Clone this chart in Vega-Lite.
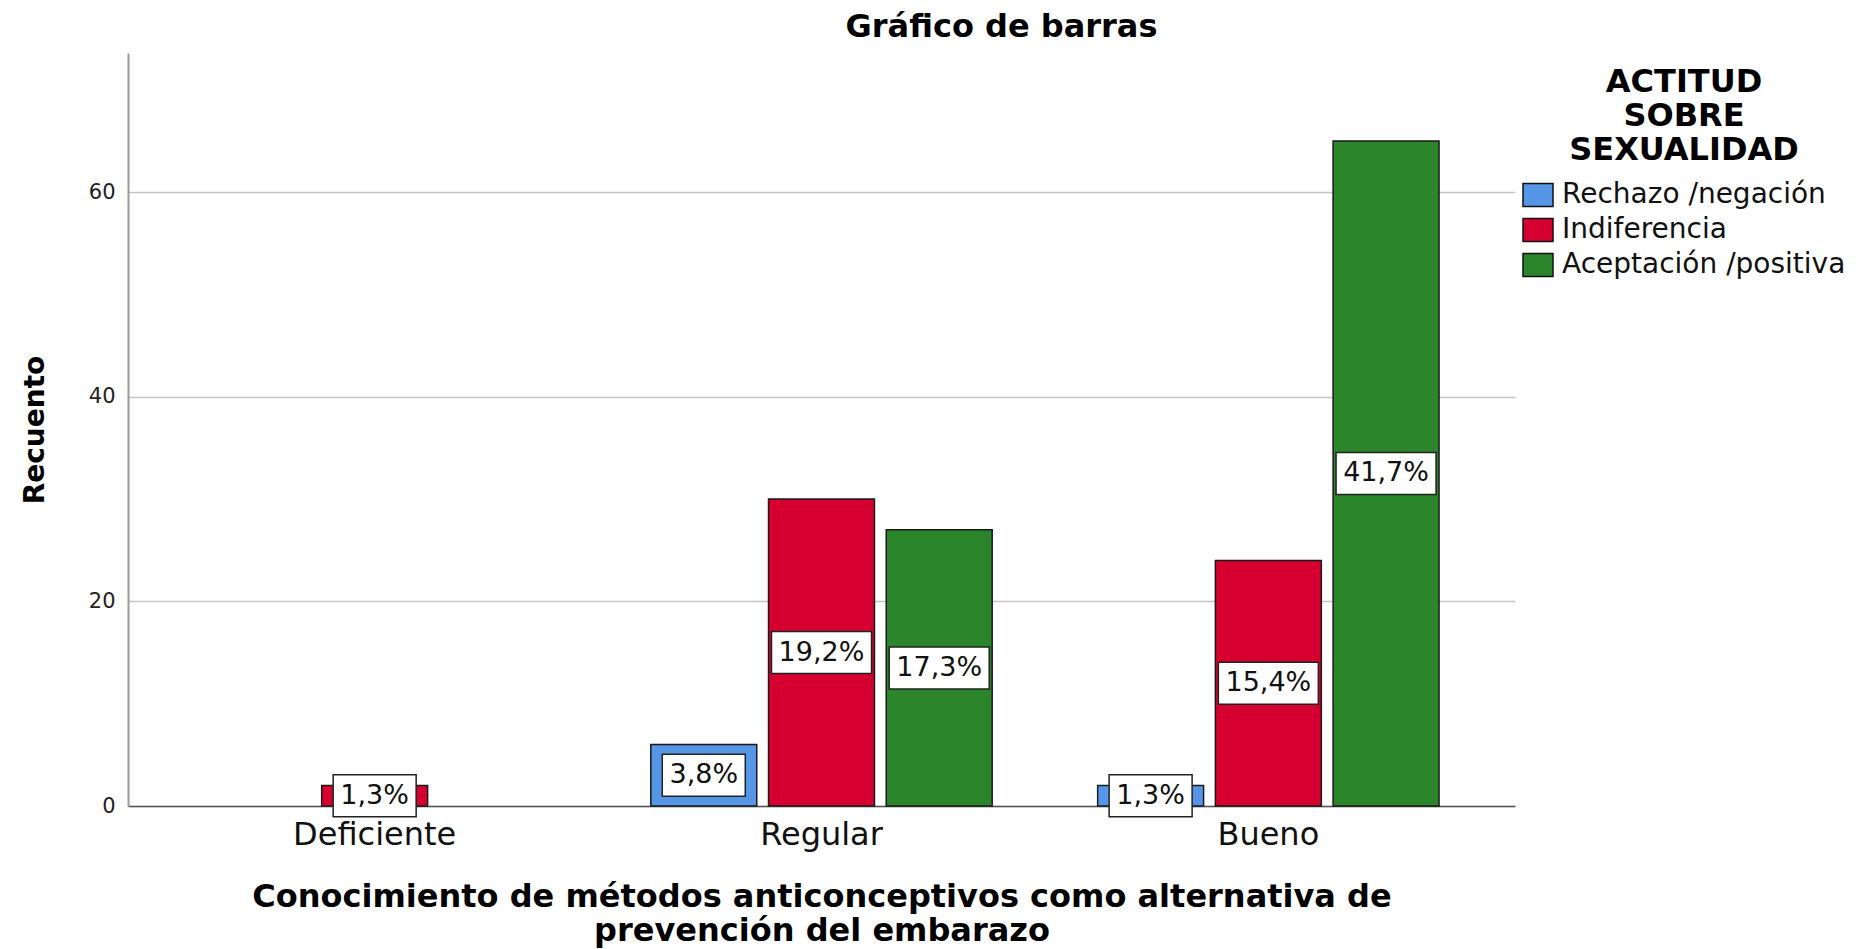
{
  "$schema": "https://vega.github.io/schema/vega-lite/v6.json",
  "width": 1387,
  "height": 753,
  "autosize": {"type": "none"},
  "padding": {"left": 128, "top": 53, "right": 344, "bottom": 143},
  "background": "white",
  "title": {"text": "Gráfico de barras", "font": "DejaVu Sans", "fontSize": 32, "fontWeight": "bold", "color": "#000", "anchor": "middle", "dx": 180, "offset": 9},
  "data": {
    "values": [
      {"conocimiento": "Deficiente", "actitud": "Indiferencia", "recuento": 2, "pct": "1,3%"},
      {"conocimiento": "Regular", "actitud": "Rechazo /negación", "recuento": 6, "pct": "3,8%"},
      {"conocimiento": "Regular", "actitud": "Indiferencia", "recuento": 30, "pct": "19,2%"},
      {"conocimiento": "Regular", "actitud": "Aceptación /positiva", "recuento": 27, "pct": "17,3%"},
      {"conocimiento": "Bueno", "actitud": "Rechazo /negación", "recuento": 2, "pct": "1,3%"},
      {"conocimiento": "Bueno", "actitud": "Indiferencia", "recuento": 24, "pct": "15,4%"},
      {"conocimiento": "Bueno", "actitud": "Aceptación /positiva", "recuento": 65, "pct": "41,7%"}
    ]
  },
  "layer": [
    {
      "mark": {"type": "bar", "stroke": "#1a1a1a", "strokeWidth": 1.5},
      "encoding": {
        "x": {"field": "conocimiento", "type": "nominal", "sort": ["Deficiente", "Regular", "Bueno"], "scale": {"paddingInner": 0.236, "paddingOuter": 0.17}, "title": ["Conocimiento de métodos anticonceptivos como alternativa de", "prevención del embarazo"]},
        "xOffset": {"field": "actitud", "type": "nominal", "sort": ["Rechazo /negación", "Indiferencia", "Aceptación /positiva"], "scale": {"domain": ["Rechazo /negación", "Indiferencia", "Aceptación /positiva"], "paddingInner": 0.1}},
        "y": {"field": "recuento", "type": "quantitative", "scale": {"domain": [0, 73.6], "nice": false}, "axis": {"values": [0, 20, 40, 60], "grid": true}, "title": "Recuento"},
        "color": {"field": "actitud", "type": "nominal", "scale": {"domain": ["Rechazo /negación", "Indiferencia", "Aceptación /positiva"], "range": ["#5596E6", "#D5002F", "#2B852B"]}, "title": ["ACTITUD", "SOBRE", "SEXUALIDAD"]}
      }
    },
    {
      "mark": {"type": "point", "filled": true, "fill": "white", "stroke": "#222", "strokeWidth": 1.5, "opacity": 1, "fillOpacity": 1, "size": 10000},
      "encoding": {
        "x": {"field": "conocimiento", "type": "nominal", "sort": ["Deficiente", "Regular", "Bueno"]},
        "xOffset": {"field": "actitud", "type": "nominal", "sort": ["Rechazo /negación", "Indiferencia", "Aceptación /positiva"]},
        "y": {"field": "recuento", "type": "quantitative", "scale": {"domain": [0, 147.2], "nice": false}, "axis": null},
        "shape": {"condition": {"test": "length(datum.pct) > 4", "value": "M-1,-0.42H1V0.42H-1Z"}, "value": "M-0.83,-0.42H0.83V0.42H-0.83Z"}
      }
    },
    {
      "mark": {"type": "text", "font": "DejaVu Sans", "fontSize": 27, "color": "#111", "baseline": "middle", "align": "center"},
      "encoding": {
        "x": {"field": "conocimiento", "type": "nominal", "sort": ["Deficiente", "Regular", "Bueno"]},
        "xOffset": {"field": "actitud", "type": "nominal", "sort": ["Rechazo /negación", "Indiferencia", "Aceptación /positiva"]},
        "y": {"field": "recuento", "type": "quantitative", "scale": {"domain": [0, 147.2], "nice": false}, "axis": null},
        "text": {"field": "pct", "type": "nominal"}
      }
    }
  ],
  "resolve": {"scale": {"y": "independent"}},
  "config": {
    "view": {"stroke": null},
    "axisY": {"gridColor": "#c4c4c4", "gridWidth": 1.5, "domainColor": "#9a9a9a", "domainWidth": 2, "ticks": false, "labelFont": "DejaVu Sans", "labelFontSize": 21, "labelColor": "#222", "labelPadding": 13, "titleFont": "DejaVu Sans", "titleFontSize": 28, "titleFontWeight": "bold", "titleColor": "#000", "titlePadding": 39},
    "axisX": {"domainColor": "#555", "domainWidth": 1.5, "ticks": false, "labelFont": "DejaVu Sans", "labelFontSize": 32, "labelColor": "#111", "labelPadding": 13, "labelAngle": 0, "titleFont": "DejaVu Sans", "titleFontSize": 32, "titleFontWeight": "bold", "titleColor": "#000", "titleLineHeight": 34, "titlePadding": 31, "titleLimit": 1800, "grid": false},
    "legend": {"orient": "none", "legendX": 1394, "legendY": 14, "titleFont": "DejaVu Sans", "titleFontSize": 32, "titleFontWeight": "bold", "titleColor": "#000", "titleLineHeight": 34, "titleAlign": "center", "titleAnchor": "middle", "titlePadding": 12, "titleLimit": 600, "labelFont": "DejaVu Sans", "labelFontSize": 28, "labelColor": "#111", "labelOffset": 8, "labelLimit": 400, "symbolType": "M-1,-0.77H1V0.77H-1Z", "symbolSize": 900, "symbolStrokeColor": "#111", "symbolStrokeWidth": 1.5, "symbolOpacity": 1, "rowPadding": 4, "padding": 0}
  }
}
